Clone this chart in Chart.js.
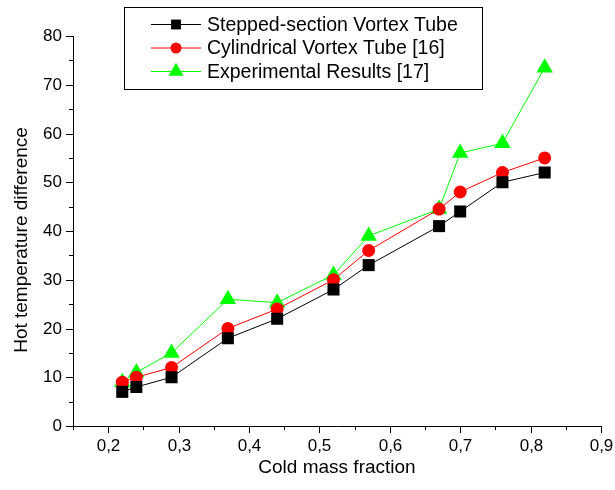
<!DOCTYPE html>
<html>
<head>
<meta charset="utf-8">
<script src="https://cdn.jsdelivr.net/npm/chart.js@4"></script>
<style>
  body { margin: 0; background: #fff; }
  #chart { display: block; }
</style>
</head>
<body>
<canvas id="chart" width="615" height="490"></canvas>
<script>
// cold mass fraction (x) and hot temperature difference for each series
const massFraction = [0.22, 0.24, 0.29, 0.37, 0.44, 0.52, 0.57, 0.67, 0.70, 0.76, 0.82];
const stepped      = [7, 8, 10, 18, 22, 28, 33, 41, 44, 50, 52];
const cylindrical  = [9, 10, 12, 20, 24, 30, 36, 44.5, 48, 52, 55];
const experimental = [9, 11, 15, 26, 25.3, 31, 39, 44.5, 56, 58, 73.5];

const seriesNames = ['Stepped-section Vortex Tube', 'Cylindrical Vortex Tube [16]', 'Experimental Results [17]'];
const xTickLabels = ['0,2', '0,3', '0,4', '0,5', '0,6', '0,7', '0,8', '0,9'];
const yTickLabels = ['0', '10', '20', '30', '40', '50', '60', '70', '80'];

const FONT = 'Arial, "Liberation Sans", sans-serif';

function pts(ys) {
    return massFraction.map((x, i) => ({ x: x, y: ys[i] }));
}

const styles = [
    { color: '#000000', shape: 'rect', r: 8.5, lr: 7 },
    { color: '#ff0000', shape: 'circle', r: 6.5, lr: 5.5 },
    { color: '#00ff00', shape: 'triangle', r: 9.5, lr: 8.7 }
];

// axis ticks (major + minor, outward), axis titles and the boxed legend
const decorPlugin = {
    id: 'decor',
    afterDraw(chart) {
        const ctx = chart.ctx;
        const xs = chart.scales.x, ys = chart.scales.y;
        const area = chart.chartArea;
        ctx.save();
        ctx.strokeStyle = '#000';
        ctx.lineWidth = 1;
        ctx.fillStyle = '#000';
        ctx.font = '17px ' + FONT;

        // y ticks
        ctx.textAlign = 'right';
        ctx.textBaseline = 'middle';
        for (let v = 0; v <= 80; v += 5) {
            const py = Math.round(ys.getPixelForValue(v)) + 0.5;
            const major = v % 10 === 0;
            ctx.beginPath();
            ctx.moveTo(area.left, py);
            ctx.lineTo(area.left - (major ? 7 : 4), py);
            ctx.stroke();
            if (major) ctx.fillText(yTickLabels[v / 10], area.left - 11, py);
        }
        // x ticks
        ctx.textAlign = 'center';
        ctx.textBaseline = 'top';
        for (let k = 3; k <= 18; k++) {
            const v = k * 0.05;
            const px = Math.round(xs.getPixelForValue(v)) + 0.5;
            const major = k % 2 === 0;
            ctx.beginPath();
            ctx.moveTo(px, area.bottom);
            ctx.lineTo(px, area.bottom + (major ? 7 : 4));
            ctx.stroke();
            if (major) ctx.fillText(xTickLabels[k / 2 - 2], px, area.bottom + 12);
        }

        // axis titles
        ctx.font = '19px ' + FONT;
        ctx.textBaseline = 'middle';
        ctx.fillText('Cold mass fraction', 337, 468);
        ctx.save();
        ctx.translate(22, 240);
        ctx.rotate(-Math.PI / 2);
        ctx.fillText('Hot temperature difference', 0, 0);
        ctx.restore();

        // legend box
        const bx = 124.5, by = 7.5, bw = 358, bh = 82;
        ctx.fillStyle = '#fff';
        ctx.fillRect(bx, by, bw, bh);
        ctx.strokeRect(bx, by, bw, bh);
        ctx.font = '19.5px ' + FONT;
        ctx.textAlign = 'left';
        seriesNames.forEach((name, i) => {
            const ly = 24.5 + i * 23.5;
            const st = styles[i];
            ctx.strokeStyle = st.color;
            ctx.beginPath();
            ctx.moveTo(151, ly);
            ctx.lineTo(201, ly);
            ctx.stroke();
            ctx.fillStyle = st.color;
            Chart.helpers.drawPoint(ctx, {
                pointStyle: st.shape, radius: st.lr, borderWidth: 0, rotation: 0
            }, 176, ly);
            ctx.fillStyle = '#000';
            ctx.fillText(name, 207, ly + 1);
        });
        ctx.restore();
    }
};

const datasets = [stepped, cylindrical, experimental].map((ys, i) => ({
    label: seriesNames[i],
    data: pts(ys),
    borderColor: styles[i].color,
    backgroundColor: styles[i].color,
    borderWidth: 1,
    pointStyle: styles[i].shape,
    pointRadius: styles[i].r,
    pointBorderWidth: 0,
    pointBorderColor: styles[i].color,
    tension: 0
}));

new Chart(document.getElementById('chart'), {
    type: 'line',
    data: { datasets: datasets },
    options: {
        responsive: false,
        animation: false,
        layout: { padding: { left: 73, right: 14, top: 36, bottom: 64 } },
        plugins: { legend: { display: false }, tooltip: { enabled: false } },
        scales: {
            x: {
                type: 'linear', min: 0.15, max: 0.9,
                grid: { display: false, drawTicks: false },
                border: { display: true, color: '#000', width: 1 },
                ticks: { display: false }
            },
            y: {
                min: 0, max: 80,
                grid: { display: false, drawTicks: false },
                border: { display: true, color: '#000', width: 1 },
                ticks: { display: false }
            }
        }
    },
    plugins: [decorPlugin]
});
</script>
</body>
</html>
